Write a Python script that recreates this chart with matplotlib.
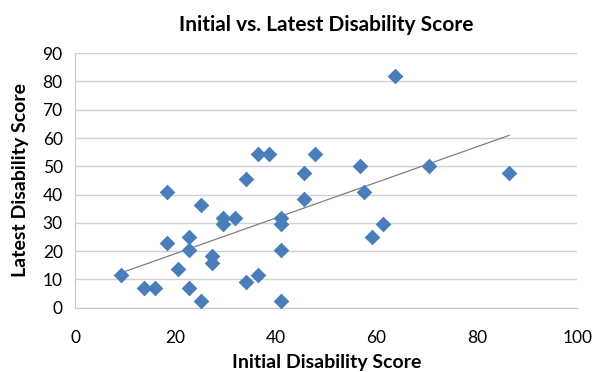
import numpy as np
import matplotlib.pyplot as plt

plt.rcParams['font.family'] = ['Lato', 'DejaVu Sans']

initial = [9.1, 13.6, 15.9, 18.2, 18.2, 20.5, 22.7, 22.7, 22.7, 25.0,
           25.0, 27.3, 27.3, 29.5, 29.5, 31.8, 34.1, 34.1, 36.4, 36.4,
           38.6, 40.9, 40.9, 40.9, 40.9, 45.5, 45.5, 47.7, 56.8, 57.5,
           59.1, 61.4, 63.6, 70.5, 86.4]
latest = [11.4, 6.8, 6.8, 40.9, 22.7, 13.6, 25.0, 20.5, 6.8, 36.4,
          2.3, 18.2, 15.9, 31.8, 29.5, 31.8, 45.5, 9.1, 54.5, 11.4,
          54.5, 31.8, 29.5, 20.5, 2.3, 47.7, 38.6, 54.5, 50.0, 40.9,
          25.0, 29.5, 81.8, 50.0, 47.7]

x = np.array(initial)
y = np.array(latest)
slope, intercept = np.polyfit(x, y, 1)
xs = np.array([x.min(), x.max()])

fig = plt.figure(figsize=(5.97, 3.72), dpi=100)
ax = fig.add_axes([0.126, 0.173, 0.841, 0.684])

ax.scatter(x, y, marker='D', s=64, color='#4a7ebb', zorder=3, linewidths=0)
ax.plot(xs, slope * xs + intercept, color='#7f7f7f', lw=0.9, zorder=2)

ax.set_xlim(0, 100)
ax.set_ylim(0, 90)
ax.set_xticks(range(0, 101, 20))
ax.set_yticks(range(0, 91, 10))
ax.yaxis.grid(True, color='#d0d0d0', lw=1)
ax.set_axisbelow(True)
for s in ['top', 'right']:
    ax.spines[s].set_visible(False)
for s in ['left', 'bottom']:
    ax.spines[s].set_color('#c8c8c8')
ax.tick_params(length=0, labelsize=12.5)
ax.tick_params(axis='x', pad=16)
ax.tick_params(axis='y', pad=9)

ax.set_title("Initial vs. Latest Disability Score", fontsize=15, fontweight='bold', pad=16)
ax.set_xlabel("Initial Disability Score", fontsize=14, fontweight='bold', labelpad=6)
ax.set_ylabel("Latest Disability Score", fontsize=14, fontweight='bold', labelpad=10)

plt.savefig("out.png", dpi=100)
